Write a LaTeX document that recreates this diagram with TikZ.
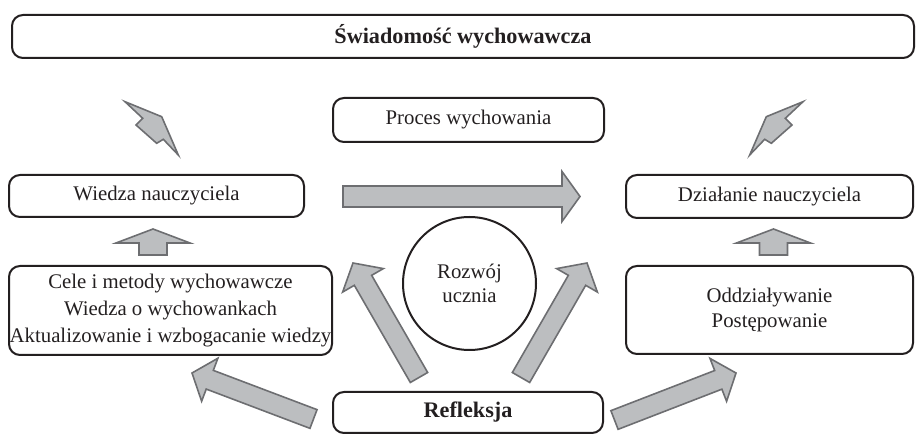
\documentclass[tikz,border=0pt]{standalone}
\usepackage{fontspec}
\setmainfont{Liberation Serif}
\usetikzlibrary{calc}
\definecolor{afill}{HTML}{BCBEC0}
\definecolor{aline}{HTML}{6D6E71}
\definecolor{ink}{HTML}{231F20}
\tikzset{
  txt/.style={text=ink, font=\fontsize{20.8}{27}\selectfont},
  bigtxt/.style={font=\fontsize{22.2}{27}\selectfont\bfseries},
  box/.style={txt, draw=ink, line width=2pt, rounded corners=11pt, inner sep=0pt, align=center},
  circ/.style={txt, draw=ink, line width=2pt, circle, inner sep=0pt, minimum size=133pt, align=center, font=\fontsize{20.8}{24}\selectfont},
  barrow/.style={fill=afill, draw=aline, line width=1.6pt, line join=miter},
}
\newcommand\blockarr[5]{%
  \coordinate (hb) at ($(#2)!#5!(#1)$);
  \draw[barrow] ($(#1)!#3!90:(#2)$) -- ($(hb)!#3!90:(#2)$) -- ($(hb)!#4!90:(#2)$) -- (#2)
    -- ($(hb)!#4!-90:(#2)$) -- ($(hb)!#3!-90:(#2)$) -- ($(#1)!#3!-90:(#2)$) -- cycle;}
\begin{document}
\begin{tikzpicture}[x=1pt,y=-1pt]
\useasboundingbox (0,0) rectangle (916,435);
% boxes
\node[box, bigtxt, minimum width=902pt, minimum height=43pt] (sw) at (463,36.5) {Świadomość wychowawcza};
\node[box, minimum width=271pt, minimum height=44pt] (pw) at (468.5,120) {Proces wychowania};
\node[box, minimum width=295pt, minimum height=42pt] (wn) at (156.5,196) {Wiedza nauczyciela};
\node[box, minimum width=287pt, minimum height=43pt] (dn) at (769.5,196.5) {Działanie nauczyciela};
\node[box, minimum width=323pt, minimum height=89pt] (cm) at (170.5,310.5) {Cele i metody wychowawcze\\Wiedza o wychowankach\\Aktualizowanie i wzbogacanie wiedzy};
\node[box, minimum width=287pt, minimum height=88pt, font=\fontsize{20.8}{25}\selectfont] (op) at (769.5,310) {Oddziaływanie\\Postępowanie};
\node[circ] (ru) at (469.5,283.5) {Rozwój\\ucznia};
\node[box, bigtxt, minimum width=270pt, minimum height=41pt] (rf) at (468,412.5) {Refleksja};
% arrow end points
\coordinate (h1t) at (343,196.5);  \coordinate (h1h) at (580,196.5);
\coordinate (u1t) at (153,255);    \coordinate (u1h) at (153,229);
\coordinate (u2t) at (773.5,255);  \coordinate (u2h) at (773.5,229);
\coordinate (d1t) at (313.5,419);  \coordinate (d1h) at (192,373);
\coordinate (d2t) at (614.5,420);  \coordinate (d2h) at (736,373);
\coordinate (m1t) at (419,377.5);  \coordinate (m1h) at (353,263);
\coordinate (m2t) at (521,377.5);  \coordinate (m2h) at (587,263);
\blockarr{h1t}{h1h}{10.5pt}{25pt}{18pt}
\blockarr{u1t}{u1h}{14pt}{37pt}{14pt}
\blockarr{u2t}{u2h}{14pt}{37pt}{14pt}
\blockarr{d1t}{d1h}{10pt}{23pt}{19pt}
\blockarr{d2t}{d2h}{10pt}{23pt}{19pt}
\blockarr{m1t}{m1h}{10pt}{23.5pt}{20pt}
\blockarr{m2t}{m2h}{10pt}{23.5pt}{20pt}
% distorted arrows towards the top box
\draw[barrow] (125,101.7) -- (161.7,116.7) -- (178.3,155) -- (163.3,139.3) -- (156.7,143.3) -- (136,125) -- (142.7,118.3) -- cycle;
\draw[barrow] (803,101.7) -- (766.3,116.7) -- (749.7,155) -- (764.7,139.3) -- (771.3,143.3) -- (792,125) -- (785.3,118.3) -- cycle;
\end{tikzpicture}
\end{document}
